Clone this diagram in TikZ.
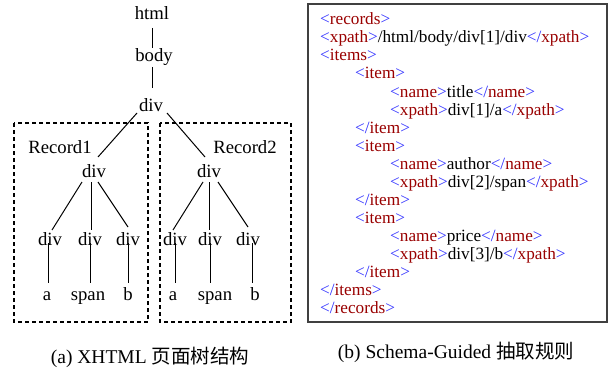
\documentclass[tikz,border=0pt]{standalone}
\usepackage{fontspec}
\setmainfont{Liberation Serif}
\newfontfamily\cjk{Noto Sans CJK SC}
\usetikzlibrary{calc}
\definecolor{tagblue}{RGB}{51,51,255}
\definecolor{tagred}{RGB}{153,0,0}
\definecolor{frame}{RGB}{64,64,64}
% opening and closing XML tags
\newcommand\xo[1]{\textcolor{tagblue}{<}\textcolor{tagred}{#1}\textcolor{tagblue}{>}}
\newcommand\xc[1]{\textcolor{tagblue}{</}\textcolor{tagred}{#1}\textcolor{tagblue}{>}}
\begin{document}
\begin{tikzpicture}[x=1pt,y=-1pt,
  tree/.style={font=\fontsize{18.7}{22}\selectfont, inner sep=0pt, anchor=base},
  code/.style={font=\fontsize{17.2}{20}\selectfont, inner sep=0pt, anchor=base west},
  caption/.style={font=\fontsize{19.5}{22}\selectfont, inner sep=0pt, anchor=base},
  edge/.style={line width=1pt},
  recordbox/.style={line width=1.1pt, dash pattern=on 4pt off 3pt},
  codebox/.style={draw=frame, line width=1.4pt}]
\useasboundingbox (0,0) rectangle (608,369);

% ---- XHTML tree ----
\node[tree] (html) at (152,20) {html};
\node[tree] (body) at (154,62) {body};
\node[tree] (d0) at (151,111) {div};
\node[tree] (rec1) at (60,153) {Record1};
\node[tree] (rec2) at (245,153) {Record2};
\node[tree] (d1) at (94,177) {div};
\node[tree] (d2) at (209,177) {div};
\node[tree] (l1) at (50,245) {div};
\node[tree] (l2) at (90,245) {div};
\node[tree] (l3) at (128,245) {div};
\node[tree] (r1) at (175,245) {div};
\node[tree] (r2) at (210,245) {div};
\node[tree] (r3) at (248,245) {div};
\node[tree] (a1) at (47,300) {a};
\node[tree] (s1) at (88,300) {span};
\node[tree] (b1) at (128,300) {b};
\node[tree] (a2) at (173,300) {a};
\node[tree] (s2) at (215,300) {span};
\node[tree] (b2) at (255,300) {b};

\draw[edge] ($(html.base)+(0,8)$) -- ($(body.base)+(-2,-14)$);
\draw[edge] ($(body.base)+(-2,5)$) -- ($(d0.base)+(1,-23)$);
\draw[edge] ($(d0.base)+(-14,2)$) -- ($(d1.base)+(4,-20)$);
\draw[edge] ($(d0.base)+(16,2)$) -- ($(d2.base)+(-4,-20)$);
\draw[edge] ($(d1.base)+(-12,5)$) -- ($(l1.base)+(2,-15)$);
\draw[edge] ($(d1.base)+(-3,5)$) -- ($(l2.base)+(1,-15)$);
\draw[edge] ($(d1.base)+(4,5)$) -- ($(l3.base)+(0,-18)$);
\draw[edge] ($(d2.base)+(-6,5)$) -- ($(r1.base)+(-2,-15)$);
\draw[edge] ($(d2.base)+(0,5)$) -- ($(r2.base)+(-1,-15)$);
\draw[edge] ($(d2.base)+(9,5)$) -- ($(r3.base)+(0,-18)$);
\draw[edge] ($(l1.base)+(-2,-2)$) -- ($(a1.base)+(1,-17)$);
\draw[edge] ($(l2.base)+(0,-2)$) -- ($(s1.base)+(2,-17)$);
\draw[edge] ($(l3.base)+(0,-2)$) -- ($(b1.base)+(0,-17)$);
\draw[edge] ($(r1.base)+(0,-2)$) -- ($(a2.base)+(2,-17)$);
\draw[edge] ($(r2.base)+(0,-2)$) -- ($(s2.base)+(-5,-17)$);
\draw[edge] ($(r3.base)+(4,-2)$) -- ($(b2.base)+(-3,-17)$);

% record regions
\draw[recordbox] (14,123) rectangle (148,322);
\draw[recordbox] (160,123) rectangle (291,322);

% ---- extraction rule ----
\draw[codebox] (308,4) rectangle (607,322);
\node[code] (c1) at (320,25) {\xo{records}};
\node[code] (c2) at (320,43) {\xo{xpath}/html/body/div[1]/div\xc{xpath}};
\node[code] (c3) at (320,61) {\xo{items}};
\node[code] (c4) at (355,79) {\xo{item}};
\node[code] (c5) at (390,97) {\xo{name}title\xc{name}};
\node[code] (c6) at (390,115) {\xo{xpath}div[1]/a\xc{xpath}};
\node[code] (c7) at (355,133) {\xc{item}};
\node[code] (c8) at (355,151) {\xo{item}};
\node[code] (c9) at (390,169) {\xo{name}author\xc{name}};
\node[code] (c10) at (390,187) {\xo{xpath}div[2]/span\xc{xpath}};
\node[code] (c11) at (355,205) {\xc{item}};
\node[code] (c12) at (355,223) {\xo{item}};
\node[code] (c13) at (390,241) {\xo{name}price\xc{name}};
\node[code] (c14) at (390,259) {\xo{xpath}div[3]/b\xc{xpath}};
\node[code] (c15) at (355,277) {\xc{item}};
\node[code] (c16) at (320,295) {\xc{items}};
\node[code] (c17) at (320,313) {\xc{records}};

% ---- captions ----
\node[caption] (capa) at (150,363) {(a) XHTML {\cjk 页面树结构}};
\node[caption] (capb) at (456,358) {(b) Schema-Guided {\cjk 抽取规则}};
\end{tikzpicture}
\end{document}
